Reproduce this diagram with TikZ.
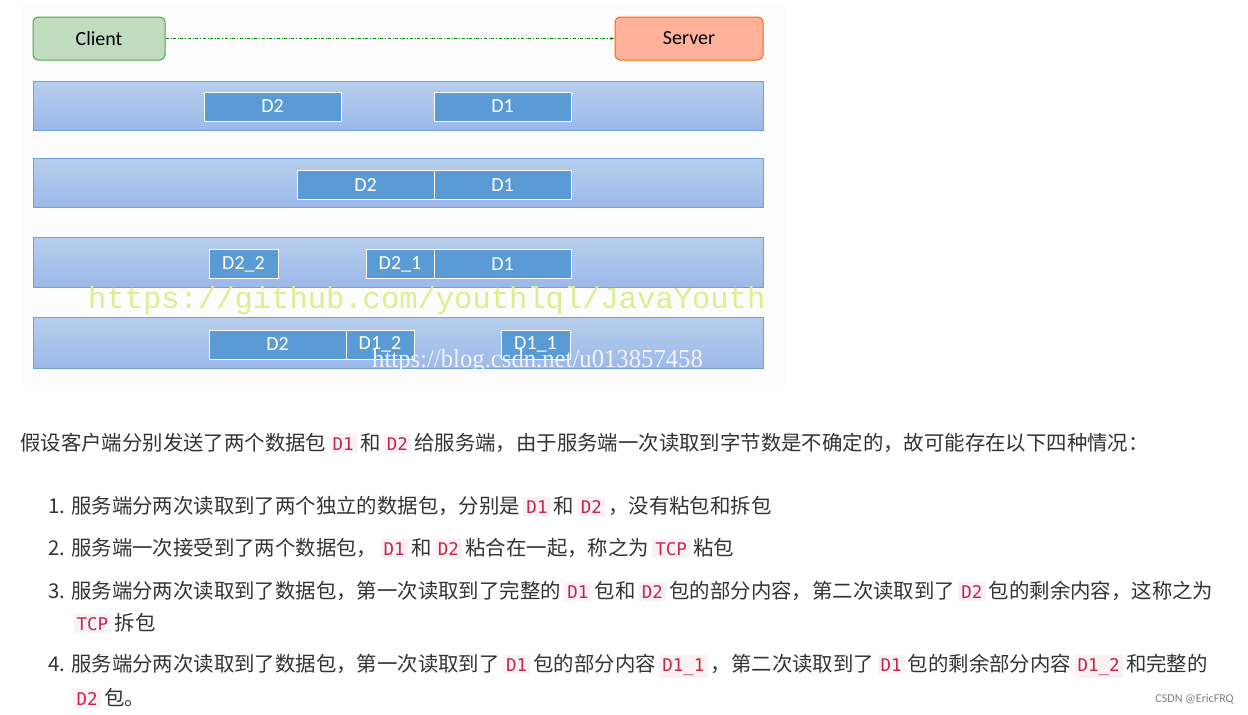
\documentclass[tikz,border=0pt]{standalone}
\usepackage{fontspec}
\setmainfont{Carlito}
\newfontfamily\cjk{Noto Sans CJK SC}
\newfontfamily\cmono{DejaVu Sans Mono}
\newfontfamily\wmono{Liberation Mono}
\newfontfamily\wserif{Liberation Serif}
\definecolor{chipbg}{HTML}{F9F2F4}
\definecolor{chipfg}{HTML}{C7254E}
\definecolor{bandfill}{HTML}{A4C2E8}
\definecolor{bandline}{HTML}{6FA0DC}
\definecolor{pkt}{HTML}{5B9BD5}
\definecolor{txt}{HTML}{333333}
\newcommand{\cc}[1]{\,{\setlength{\fboxsep}{3pt}\colorbox{chipbg}{\cmono\fontsize{17.5}{19}\selectfont\color{chipfg}#1}}\,}
\tikzset{
  band/.style={draw=bandline, line width=1pt, top color=bandfill!80!white, bottom color=bandfill!95!blue},
  pk/.style={draw=white, line width=1pt, fill=pkt, text=white, font=\fontsize{20}{22}\selectfont, inner sep=0pt},
  para/.style={anchor=west, inner sep=0pt, text=txt, font=\cjk\fontsize{20.4}{22}\selectfont},
}
\begin{document}
\begin{tikzpicture}[x=1pt,y=-1pt]
\useasboundingbox[fill=white] (0,0) rectangle (1248,715);
\fill[gray!2] (22,5) rectangle (785,385);
\node[draw=green!50!black!70, fill=green!45!black!25!white, line width=1pt, rounded corners=5pt, minimum width=132pt, minimum height=43pt, font=\fontsize{20}{22}\selectfont] (client) at (99,38.5) {Client};
\node[draw=orange!80!red, fill=orange!50!red!40!white, line width=1pt, rounded corners=5pt, minimum width=148pt, minimum height=43pt, font=\fontsize{20}{22}\selectfont] (server) at (689,38.5) {Server};
\draw[green!55!black, dash dot, -latex] (client) -- (server);
\foreach \n/\a/\b in {b1/81/130, b2/158/207, b3/237/287, b4/317/368}
  \path[band] (33,\a) rectangle (763,\b);
\node[pk, minimum width=137pt, minimum height=29pt] (a2) at (272.5,106.5) {D2};
\node[pk, minimum width=137pt, minimum height=29pt] (a1) at (502.5,106.5) {D1};
\node[pk, minimum width=137pt, minimum height=29pt] (c2) at (365.5,185) {D2};
\node[pk, minimum width=137pt, minimum height=29pt] (c1) at (502.5,185) {D1};
\node[pk, minimum width=69pt, minimum height=29pt] (e22) at (243.5,264) {D2\_2};
\node[pk, minimum width=68pt, minimum height=29pt] (e21) at (400,264) {D2\_1};
\node[pk, minimum width=137pt, minimum height=29pt] (e1) at (502.5,264) {D1};
\node[pk, minimum width=137pt, minimum height=29pt] (g2) at (277.5,344.5) {D2};
\node[pk, minimum width=68pt, minimum height=29pt] (g12) at (380,344.5) {D1\_2};
\node[pk, minimum width=69pt, minimum height=29pt] (g11) at (535.5,344.5) {D1\_1};
\node[anchor=west, inner sep=0pt, text=yellow!70!green!45!white, font=\wmono\fontsize{30.5}{32}\selectfont] (wm1) at (88,301) {https://github.com/youthlql/JavaYouth};
\node[anchor=west, inner sep=0pt, text=gray!10, font=\wserif\fontsize{26}{28}\selectfont, xscale=0.95] (wm2) at (372,361) {https://blog.csdn.net/u013857458};
\node[para] (p0) at (20,443) {假设客户端分别发送了两个数据包\cc{D1}和\cc{D2}给服务端，由于服务端一次读取到字节数是不确定的，故可能存在以下四种情况：};
\node[para] (l1) at (48,506) {1. 服务端分两次读取到了两个独立的数据包，分别是\cc{D1}和\cc{D2}，没有粘包和拆包};
\node[para] (l2) at (48,548) {2. 服务端一次接受到了两个数据包，\cc{D1}和\cc{D2}粘合在一起，称之为\cc{TCP}粘包};
\node[para] (l3) at (48,591) {3. 服务端分两次读取到了数据包，第一次读取到了完整的\cc{D1}包和\cc{D2}包的部分内容，第二次读取到了\cc{D2}包的剩余内容，这称之为};
\node[para] (l3b) at (70,623) {\cc{TCP}拆包};
\node[para] (l4) at (48,666) {4. 服务端分两次读取到了数据包，第一次读取到了\cc{D1}包的部分内容\cc{D1\_1}，第二次读取到了\cc{D1}包的剩余部分内容\cc{D1\_2}和完整的};
\node[para] (l4b) at (70,698) {\cc{D2}包。};
\node[anchor=east, inner sep=0pt, text=gray, font=\fontsize{12}{13}\selectfont] (csdn) at (1234,699) {CSDN @EricFRQ};
\end{tikzpicture}
\end{document}
